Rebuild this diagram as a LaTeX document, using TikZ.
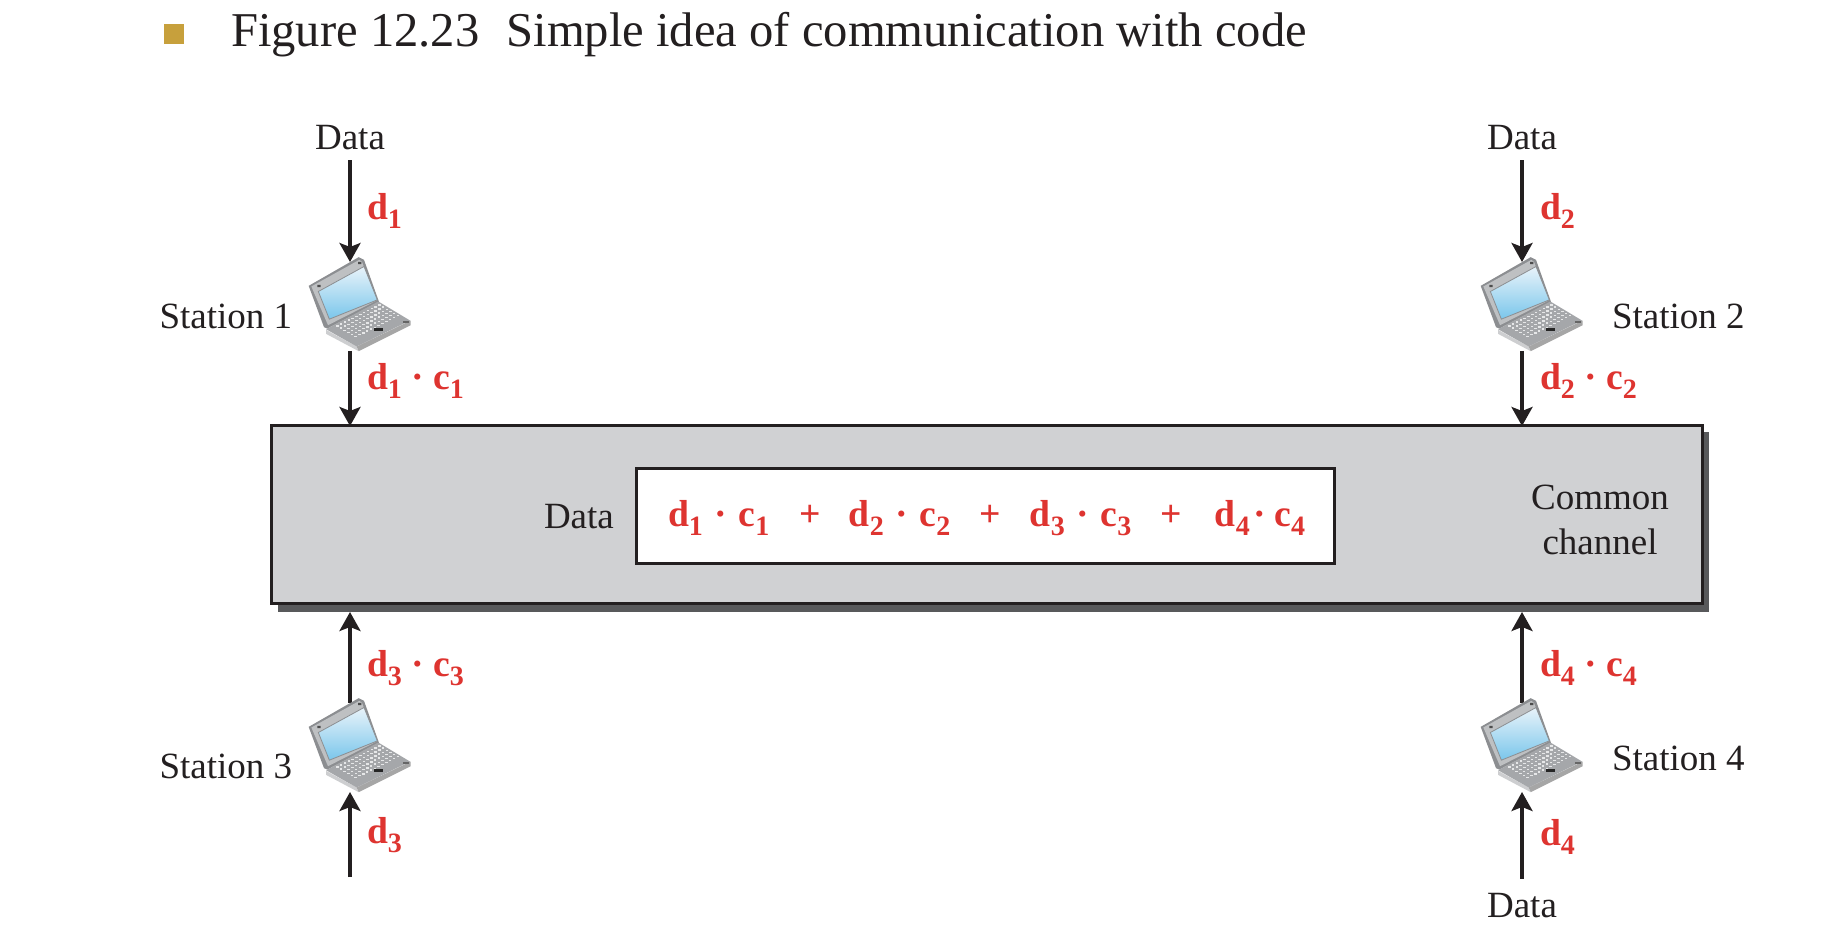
\documentclass[tikz,border=0pt]{standalone}
\usepackage{fontspec}
\setmainfont{Liberation Serif}
\usetikzlibrary{arrows.meta,calc}
\definecolor{redtxt}{RGB}{222,52,48}
\definecolor{inkc}{RGB}{35,31,32}
\definecolor{chanfill}{RGB}{208,209,211}
\definecolor{chanshadow}{RGB}{88,89,91}
\definecolor{bulletc}{RGB}{199,160,60}
\definecolor{scrlight}{RGB}{232,243,250}
\definecolor{scrblue}{RGB}{122,198,235}
\definecolor{lidgray}{RGB}{190,192,194}
\definecolor{lidedge}{RGB}{140,142,145}
\definecolor{basetop}{RGB}{165,167,170}
\definecolor{basefront}{RGB}{205,206,208}
\definecolor{keyc}{RGB}{230,231,232}
\newcommand{\subsc}[2]{#1\raisebox{-4.5pt}{\fontsize{14}{15}\selectfont #2}}
\newcommand{\prodterm}[3][4.7]{\subsc{d}{#2}\hspace{#1pt}·\hspace{#1pt}\subsc{c}{#3}}
\newcommand{\seg}[2]{\makebox[#1pt][l]{#2}}
\newcommand{\laptopat}[1]{%
\begin{scope}[shift={(#1.center)},x=0.16667pt,y=-0.16667pt,xshift=-25pt,yshift=28.33pt]
 % lid
 \fill[lidedge] (26,108) -- (176,22) -- (192,30) -- (237,156) -- (82,236) -- (72,232) -- cycle;
 \fill[lidgray] (34,110) -- (178,30) -- (186,36) -- (230,152) -- (84,226) -- cycle;
 \shade[left color=scrlight,right color=scrblue,shading angle=0]
   (55,125) -- (192,50) -- (232,150) -- (88,208) -- cycle;
 \draw[lidedge,line width=.4pt] (55,125) -- (192,50) -- (232,150) -- (88,208) -- cycle;
 \fill[black!70] (52,105) rectangle (62,112) (174,36) rectangle (184,43);
 % base
 \fill[basefront] (78,240) -- (170,290) -- (176,304) -- (78,252) -- cycle;
 \fill[black!35] (170,290) -- (332,212) -- (332,226) -- (176,304) -- cycle;
 \fill[basetop] (78,238) -- (235,155) -- (330,212) -- (170,290) -- cycle;
 \foreach \r in {0,...,5}{\foreach \k in {0,...,11}{%
   \fill[keyc] ({108+\r*11+\k*11.5},{226+\r*6.5-\k*5.7}) rectangle ++(7.5,4);}}
 \fill[black!85] (222,233) rectangle (248,242);
 \fill[black!60] (310,213) rectangle (326,219);
\end{scope}}
\tikzset{
 every node/.style={inner sep=0pt,outer sep=0pt,text=inkc,font=\fontsize{18.5}{22.5}\selectfont},
 lbl/.style={anchor=base},
 lblw/.style={anchor=base west},
 redlbl/.style={anchor=base west,text=redtxt,font=\fontsize{18.8}{22.5}\selectfont\bfseries},
 flow/.style={draw=inkc,line width=1.7pt,-{Stealth[length=9.5pt,width=10.5pt,inset=2pt]}},
 fromtop/.style={shorten <=5.2pt},
 frombottom/.style={shorten <=7pt},
 laptopbox/.style={minimum width=50pt,minimum height=44.5pt},
 chanbox/.style={draw=inkc,line width=1.5pt,fill=chanfill,minimum width=715.5pt,minimum height=88.5pt},
 shadowbox/.style={fill=chanshadow,minimum width=715.5pt,minimum height=90pt},
 sumbox/.style={draw=inkc,line width=1.5pt,fill=white,minimum width=349pt,minimum height=47pt},
}
\begin{document}
\begin{tikzpicture}[x=0.5pt,y=-0.5pt]
\useasboundingbox (0,0) rectangle (1840,940);
% title
\node[fill=bulletc,minimum width=10pt,minimum height=10pt] (bullet) at (174,34) {};
\node[lblw,font=\fontsize{24.3}{28}\selectfont] (title) at (231,47) {Figure 12.23\hspace{7.5pt} Simple idea of communication with code};
% channel
\node[shadowbox] (shadow) at (993.5,522) {};
\node[chanbox] (chan) at (986.5,514.5) {};
\node[sumbox] (sum) at (985,516) {};
\node[lblw] (chandata) at (544,528) {Data};
\node[redlbl] (sumtext) at (668,526) {%
 \seg{61.5}{\prodterm[5.8]{1}{1}}\seg{29}{\hspace{4pt}+}\seg{61}{\prodterm[5.8]{2}{2}}\seg{29.5}{\hspace{4pt}+}\seg{61}{\prodterm[5.8]{3}{3}}\seg{31.5}{\hspace{4pt}+}\subsc{d}{4}\hspace{2pt}·\hspace{4pt}\subsc{c}{4}};
\node[align=center,anchor=base] (chanlabel) at (1600,554) {Common\\channel};
% stations
\node[laptopbox] (s1) at (350,306.5) {};
\node[laptopbox] (s2) at (1522,306.5) {};
\node[laptopbox] (s3) at (350,747.5) {};
\node[laptopbox] (s4) at (1522,747.5) {};
% outer data labels
\node[lbl] (in1) at (350,149.5) {Data};
\node[lbl] (in2) at (1522,149.5) {Data};
\node[lbl] (in4) at (1522,917) {Data};
\coordinate (in3) at (350,877);
% connectors
\draw[flow,fromtop] (in1.south) -- (s1.north);
\draw[flow,fromtop] (in2.south) -- (s2.north);
\draw[flow] (s1.south) -- (s1.south |- chan.north);
\draw[flow] (s2.south) -- (s2.south |- chan.north);
\draw[flow] (in3) -- (s3.south);
\draw[flow,frombottom] (in4.north) -- (s4.south);
\draw[flow] (s3.north) -- (s3.north |- shadow.south);
\draw[flow] (s4.north) -- (s4.north |- shadow.south);
% laptops
\laptopat{s1}\laptopat{s2}\laptopat{s3}\laptopat{s4}
% station labels
\node[lblw] (l1) at (159.5,328.5) {Station 1};
\node[lblw] (l2) at (1612,328.5) {Station 2};
\node[lblw] (l3) at (159.5,778) {Station 3};
\node[lblw] (l4) at (1612,770.5) {Station 4};
% red labels
\node[redlbl] (r1) at (367,220) {\subsc{d}{1}};
\node[redlbl] (r2) at (1540,220) {\subsc{d}{2}};
\node[redlbl] (r3) at (367,843) {\subsc{d}{3}};
\node[redlbl] (r4) at (1540,845) {\subsc{d}{4}};
\node[redlbl] (p1) at (367,390) {\prodterm{1}{1}};
\node[redlbl] (p2) at (1540,390) {\prodterm{2}{2}};
\node[redlbl] (p3) at (367,676) {\prodterm{3}{3}};
\node[redlbl] (p4) at (1540,676) {\prodterm{4}{4}};
\end{tikzpicture}
\end{document}
